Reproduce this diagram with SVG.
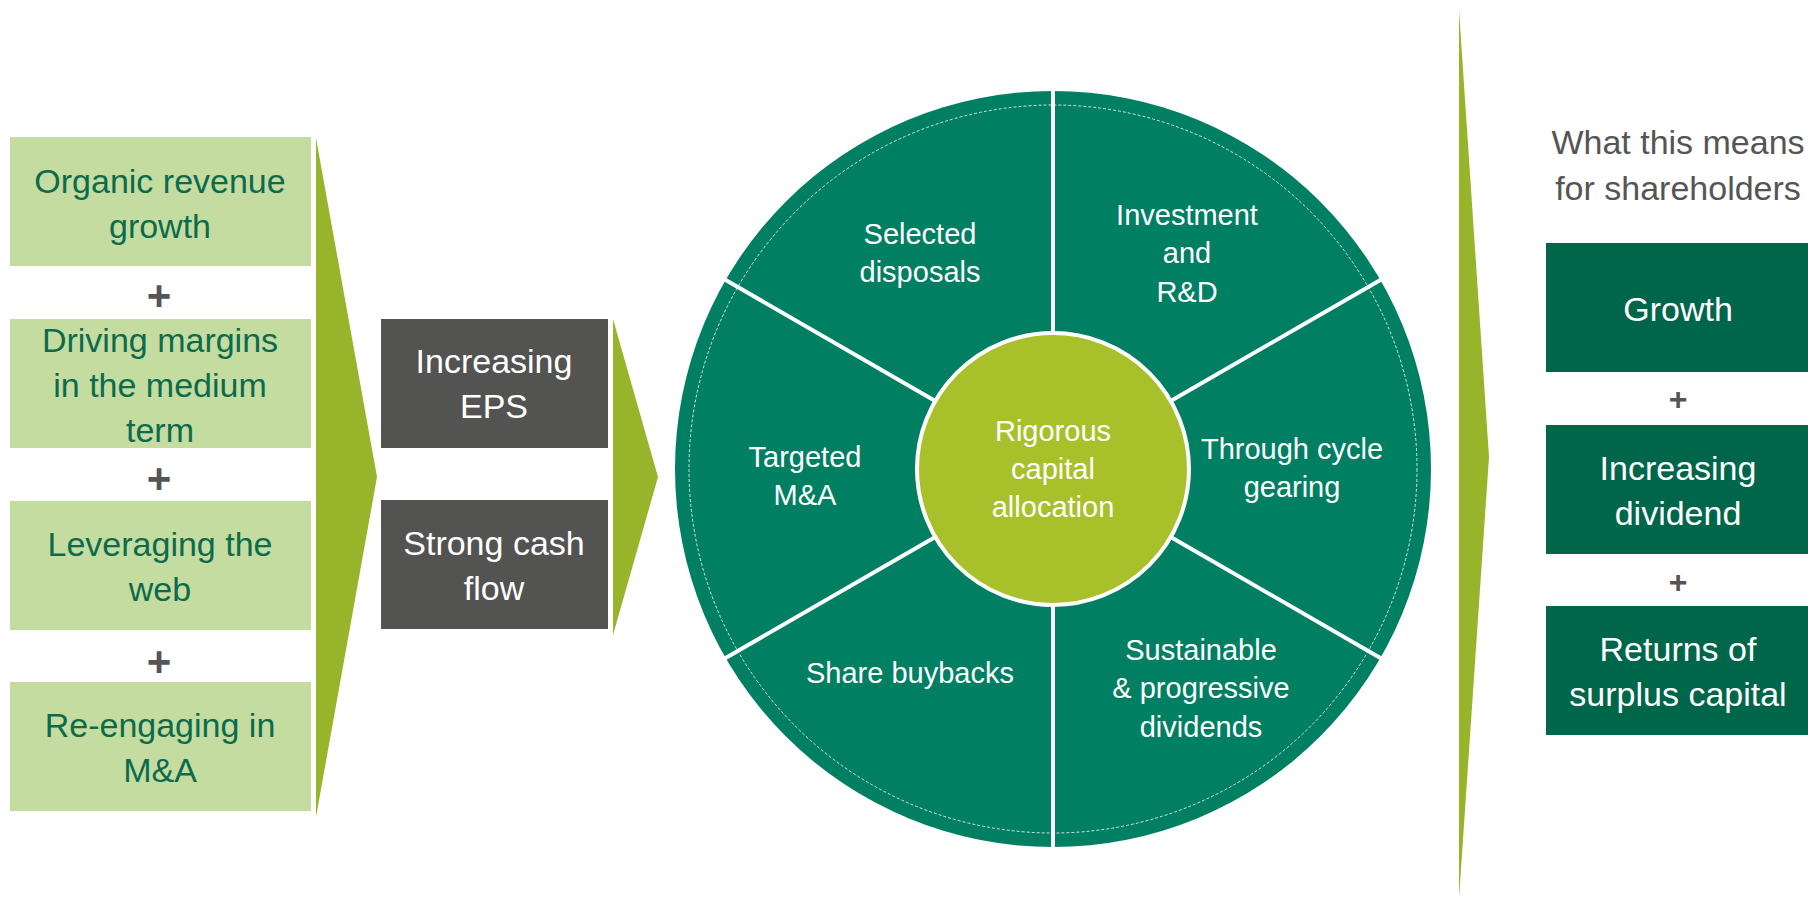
<svg xmlns="http://www.w3.org/2000/svg" width="1808" height="900" viewBox="0 0 1808 900">
  <style>
    text { font-family: "Liberation Sans", Arial, sans-serif; text-anchor: middle; }
    .lbox { fill: #c5dca1; }
    .ltxt { fill: #0c6b4c; font-size: 34px; }
    .dbox { fill: #535352; }
    .wtxt { fill: #ffffff; font-size: 34px; }
    .rbox { fill: #00664a; }
    .ctxt { fill: #ffffff; font-size: 29px; }
    .plus { fill: #555555; font-weight: bold; }
    .chev { fill: #97b42a; }
    .div { stroke: #ffffff; stroke-width: 4; fill: none; }
  </style>

  <!-- connectors: chevron arrows between the stages -->
  <g id="connectors">
    <polygon class="chev" points="316,138 377,477 316,817"/>
    <polygon class="chev" points="613,319 658,477 613,635"/>
    <polygon class="chev" points="1459,10 1489,457 1459,898"/>
  </g>

  <!-- drivers -->
  <g id="organic-revenue-growth">
    <rect class="lbox" x="10" y="137" width="301" height="129"/>
    <text class="ltxt" x="160" y="193">Organic revenue</text>
    <text class="ltxt" x="160" y="238">growth</text>
  </g>
  <text class="plus" x="159" y="310" font-size="42">+</text>
  <g id="driving-margins">
    <rect class="lbox" x="10" y="319" width="301" height="129"/>
    <text class="ltxt" x="160" y="352">Driving margins</text>
    <text class="ltxt" x="160" y="397">in the medium</text>
    <text class="ltxt" x="160" y="442">term</text>
  </g>
  <text class="plus" x="159" y="493" font-size="42">+</text>
  <g id="leveraging-web">
    <rect class="lbox" x="10" y="501" width="301" height="129"/>
    <text class="ltxt" x="160" y="556">Leveraging the</text>
    <text class="ltxt" x="160" y="601">web</text>
  </g>
  <text class="plus" x="159" y="676" font-size="42">+</text>
  <g id="reengaging-ma">
    <rect class="lbox" x="10" y="682" width="301" height="129"/>
    <text class="ltxt" x="160" y="737">Re-engaging in</text>
    <text class="ltxt" x="160" y="782">M&amp;A</text>
  </g>

  <!-- outcomes -->
  <g id="increasing-eps">
    <rect class="dbox" x="381" y="319" width="227" height="129"/>
    <text class="wtxt" x="494" y="373">Increasing</text>
    <text class="wtxt" x="494" y="418">EPS</text>
  </g>
  <g id="strong-cash-flow">
    <rect class="dbox" x="381" y="500" width="227" height="129"/>
    <text class="wtxt" x="494" y="555">Strong cash</text>
    <text class="wtxt" x="494" y="600">flow</text>
  </g>

  <!-- capital allocation wheel -->
  <g id="allocation-wheel">
    <circle cx="1053" cy="469" r="378" fill="#007f62"/>
    <circle cx="1053" cy="469" r="364" fill="none" stroke="#ffffff" stroke-width="1" stroke-dasharray="3 2" opacity="0.8"/>
    <line class="div" x1="1053" y1="332" x2="1053" y2="89"/>
    <line class="div" x1="1053" y1="606" x2="1053" y2="849"/>
    <line class="div" x1="1171.6" y1="400.5" x2="1383" y2="278.5"/>
    <line class="div" x1="1171.6" y1="537.5" x2="1383" y2="659.5"/>
    <line class="div" x1="934.4" y1="537.5" x2="723" y2="659.5"/>
    <line class="div" x1="934.4" y1="400.5" x2="723" y2="278.5"/>
  </g>
  <g id="selected-disposals">
    <text class="ctxt" x="920" y="244">Selected</text>
    <text class="ctxt" x="920" y="282">disposals</text>
  </g>
  <g id="investment-rd">
    <text class="ctxt" x="1187" y="225">Investment</text>
    <text class="ctxt" x="1187" y="263">and</text>
    <text class="ctxt" x="1187" y="302">R&amp;D</text>
  </g>
  <g id="through-cycle-gearing">
    <text class="ctxt" x="1292" y="459">Through cycle</text>
    <text class="ctxt" x="1292" y="497">gearing</text>
  </g>
  <g id="sustainable-dividends">
    <text class="ctxt" x="1201" y="660">Sustainable</text>
    <text class="ctxt" x="1201" y="698">&amp; progressive</text>
    <text class="ctxt" x="1201" y="737">dividends</text>
  </g>
  <g id="share-buybacks">
    <text class="ctxt" x="910" y="683">Share buybacks</text>
  </g>
  <g id="targeted-ma">
    <text class="ctxt" x="805" y="467">Targeted</text>
    <text class="ctxt" x="805" y="505">M&amp;A</text>
  </g>
  <g id="rigorous-capital-allocation">
    <circle cx="1053" cy="469" r="136" fill="#a8c12b" stroke="#ffffff" stroke-width="4"/>
    <text class="ctxt" x="1053" y="441">Rigorous</text>
    <text class="ctxt" x="1053" y="479">capital</text>
    <text class="ctxt" x="1053" y="517">allocation</text>
  </g>

  <!-- shareholder results -->
  <g id="shareholders-heading">
    <text x="1678" y="154" font-size="34" fill="#555555">What this means</text>
    <text x="1678" y="200" font-size="34" fill="#555555">for shareholders</text>
  </g>
  <g id="growth">
    <rect class="rbox" x="1546" y="243" width="264" height="129"/>
    <text class="wtxt" x="1678" y="321">Growth</text>
  </g>
  <text class="plus" x="1678" y="410" font-size="32">+</text>
  <g id="increasing-dividend">
    <rect class="rbox" x="1546" y="425" width="264" height="129"/>
    <text class="wtxt" x="1678" y="480">Increasing</text>
    <text class="wtxt" x="1678" y="525">dividend</text>
  </g>
  <text class="plus" x="1678" y="593" font-size="32">+</text>
  <g id="returns-surplus-capital">
    <rect class="rbox" x="1546" y="606" width="264" height="129"/>
    <text class="wtxt" x="1678" y="661">Returns of</text>
    <text class="wtxt" x="1678" y="706">surplus capital</text>
  </g>
</svg>
